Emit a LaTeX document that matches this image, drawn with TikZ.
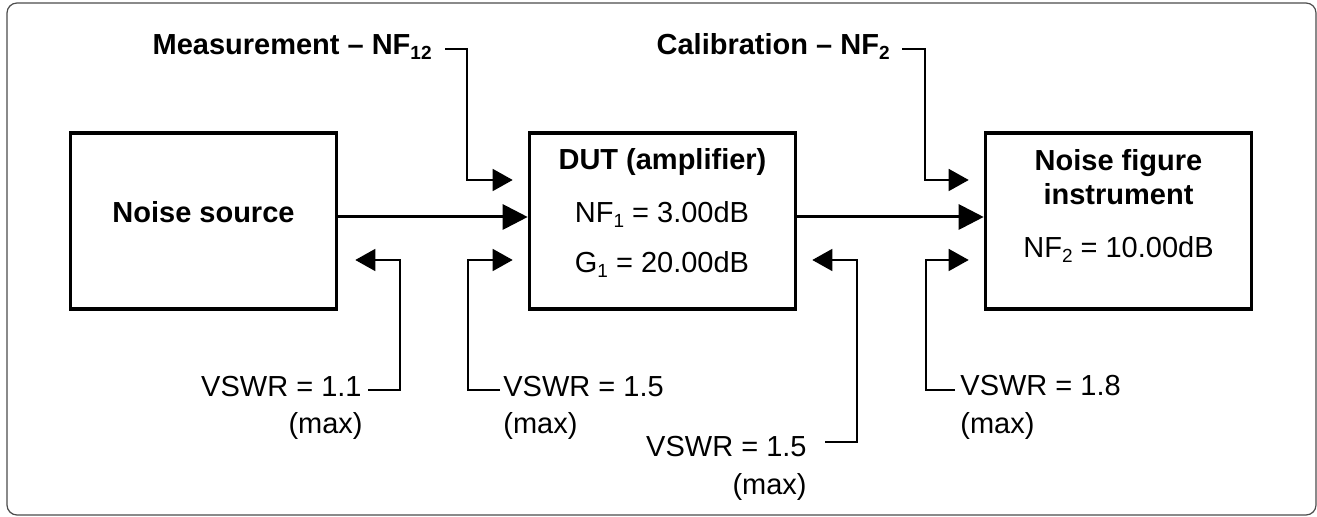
\documentclass[tikz,border=0pt]{standalone}
\usepackage{fontspec}
\setmainfont{Liberation Sans}
\usetikzlibrary{arrows.meta}
\newcommand\mysub[1]{\raisebox{-2.2pt}{\fontsize{9.5}{10}\selectfont #1}}
\begin{document}
\begin{tikzpicture}[x=0.5pt,y=-0.5pt,
  every node/.style={font=\fontsize{14.5}{17}\selectfont, inner sep=0pt},
  box/.style={draw, line width=1.8pt, minimum width=133pt, minimum height=88pt},
  bold/.style={font=\fontsize{14.5}{17}\selectfont\bfseries},
  main/.style={line width=1.5pt, -{Triangle[length=12.5pt,width=12.5pt]}},
  fb/.style={line width=0.75pt, -{Triangle[length=10pt,width=11pt]}, shorten >=7.5pt},
  frame/.style={line width=0.6pt, black!70, rounded corners=5pt}]
\useasboundingbox (0,0) rectangle (1317,517);
\draw[frame] (7,3) rectangle (1316,515);

% boxes
\node[box] (ns) at (203.5,221) {};
\node[box] (dut) at (662.5,221) {};
\node[box] (inst) at (1118.5,221) {};

% box texts
\node[bold, anchor=base] (nst) at (203.5,223) {Noise source};
\node[bold, anchor=base] (dutt) at (662.5,170) {DUT (amplifier)};
\node[anchor=base] (nf1) at (662,223) {NF\mysub{1} = 3.00dB};
\node[anchor=base] (g1) at (662,273) {G\mysub{1} = 20.00dB};
\node[bold, anchor=base] (inst1) at (1118.5,171) {Noise figure};
\node[bold, anchor=base] (inst2) at (1118.5,205) {instrument};
\node[anchor=base] (nf2) at (1118.5,258) {NF\mysub{2} = 10.00dB};

% main signal arrows
\draw[main] ([yshift=2pt]ns.east) -- ([yshift=2pt]dut.west);
\draw[main] ([yshift=2pt]dut.east) -- ([yshift=2pt]inst.west);

% top labels
\node[bold, anchor=base east] (meas) at (432,55) {Measurement -- NF\mysub{12}};
\node[bold, anchor=base east] (cal) at (890,55) {Calibration -- NF\mysub{2}};
\coordinate (cm) at (467,180);
\coordinate (cc) at (925,180);
\draw[fb] ([shift={(13,-6)}]meas.base east) -| (cm) -- (dut.west |- cm);
\draw[fb] ([shift={(12,-6)}]cal.base east) -| (cc) -- (inst.west |- cc);

% VSWR labels
\node[anchor=base east] (v11) at (362,397) {VSWR = 1.1};
\node[anchor=base east] (m11) at (363,434) {(max)};
\node[anchor=base west] (v15a) at (503,397) {VSWR = 1.5};
\node[anchor=base west] (m15a) at (503,434) {(max)};
\node[anchor=base east] (v15b) at (807,457) {VSWR = 1.5};
\node[anchor=base east] (m15b) at (807,495) {(max)};
\node[anchor=base west] (v18) at (960,396) {VSWR = 1.8};
\node[anchor=base west] (m18) at (960,434) {(max)};

\coordinate (c11) at (400,260);
\coordinate (c15a) at (468,260);
\coordinate (c15b) at (857,260);
\coordinate (c18) at (926,260);
\draw[fb, shorten >=8.5pt] ([shift={(6,-7)}]v11.base east) -| (c11) -- (ns.east |- c11);
\draw[fb] ([shift={(-3,-7)}]v15a.base west) -| (c15a) -- (dut.west |- c15a);
\draw[fb] ([shift={(18,-15)}]v15b.base east) -| (c15b) -- (dut.east |- c15b);
\draw[fb] ([shift={(-5,-6)}]v18.base west) -| (c18) -- (inst.west |- c18);
\end{tikzpicture}
\end{document}
